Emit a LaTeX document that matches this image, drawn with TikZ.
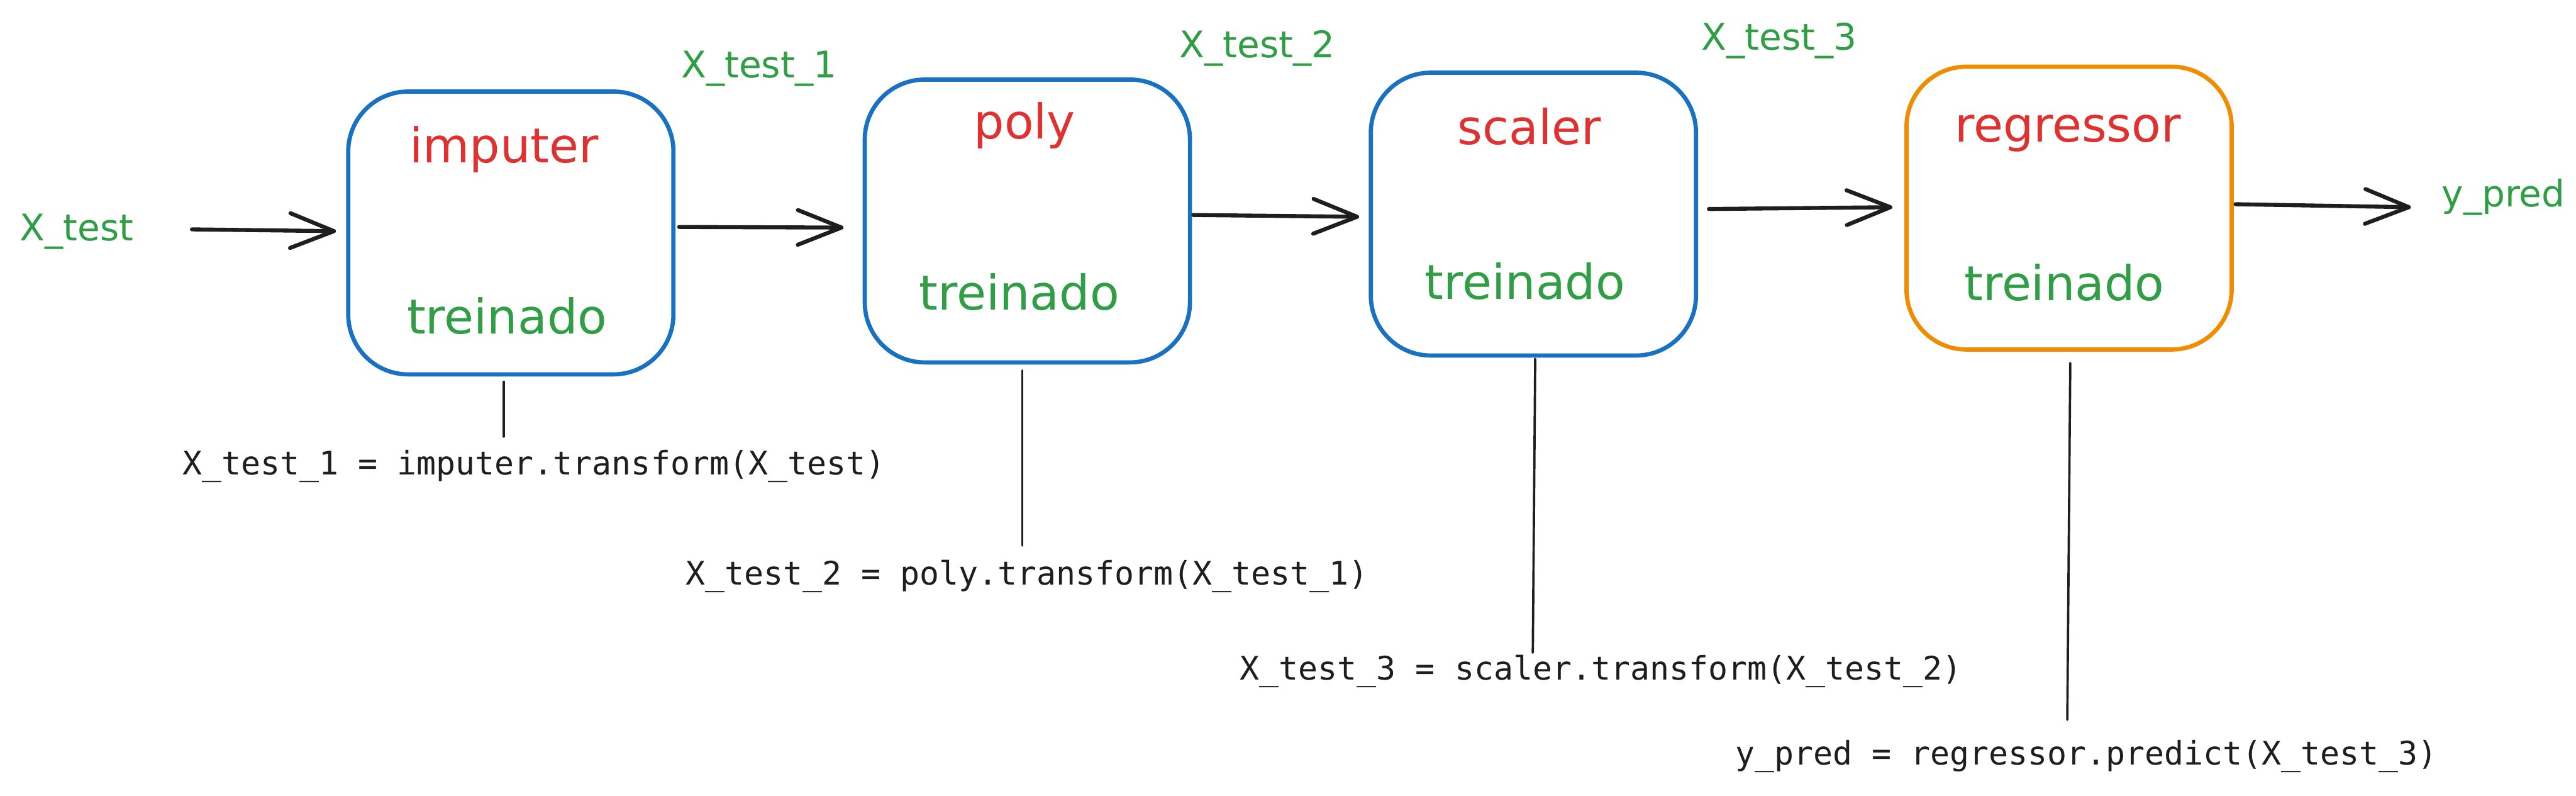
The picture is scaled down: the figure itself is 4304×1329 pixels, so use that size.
\documentclass[tikz,border=0pt]{standalone}
\usepackage{fontspec}
\setmainfont{DejaVu Sans}
\newfontfamily\codefont{DejaVu Sans Mono}
\usetikzlibrary{arrows.meta}
\definecolor{exred}{HTML}{E03131}
\definecolor{exgreen}{HTML}{2F9E44}
\definecolor{exblue}{HTML}{1971C2}
\definecolor{exorange}{HTML}{F08C00}
\definecolor{exink}{HTML}{1E1E1E}
\begin{document}
\begin{tikzpicture}[x=0.01cm,y=-0.01cm,
  box/.style={draw, line width=2pt, rounded corners=1cm, minimum width=5.43cm, minimum height=4.72cm, inner sep=0pt},
  title/.style={anchor=base, inner sep=0pt, text=exred, font=\fontsize{22.8}{26}\selectfont},
  state/.style={anchor=base, inner sep=0pt, text=exgreen, font=\fontsize{22.8}{26}\selectfont},
  var/.style={anchor=base, inner sep=0pt, text=exgreen, font=\fontsize{17.4}{20}\selectfont},
  code/.style={anchor=base, inner sep=0pt, text=exink, font=\codefont\fontsize{15.4}{18}\selectfont},
  arr/.style={draw=exink, line width=1.9pt, line cap=round, line join=round, -{Straight Barb[length=0.73cm, width=0.58cm, line width=1.9pt, round]}},
  thin/.style={draw=exink, line width=1.1pt, line cap=round}]
\useasboundingbox (0,0) rectangle (4304,1329);
\fill[white] (0,0) rectangle (4304,1329);

% boxes
\node[box, draw=exblue] (imp) at (853.5,389) {};
\node[box, draw=exblue] (poly) at (1716.5,369) {};
\node[box, draw=exblue] (scal) at (2562,357.5) {};
\node[box, draw=exorange] (reg) at (3457,347.5) {};

% titles
\node[title] (timp) at (842,272) {imputer};
\node[title] (tpoly) at (1712,232) {poly};
\node[title] (tscal) at (2555,241) {scaler};
\node[title] (treg) at (3455,237) {regressor};

% trained
\node[state] (simp) at (847,557) {treinado};
\node[state] (spoly) at (1703,518) {treinado};
\node[state] (sscal) at (2548,500) {treinado};
\node[state] (sreg) at (3449,502) {treinado};

% data labels
\node[var] (xt) at (128,402) {X\_test};
\node[var] (x1) at (1268,130) {X\_test\_1};
\node[var] (x2) at (2101,96) {X\_test\_2};
\node[var] (x3) at (2973,84) {X\_test\_3};
\node[var, anchor=base west] (yp) at (4079,345) {y\_pred};

% code labels
\node[code] (l1) at (892,793) {X\_test\_1 = imputer.transform(X\_test)};
\node[code] (l2) at (1716,977) {X\_test\_2 = poly.transform(X\_test\_1)};
\node[code] (l3) at (2675,1135) {X\_test\_3 = scaler.transform(X\_test\_2)};
\node[code] (l4) at (3486,1277) {y\_pred = regressor.predict(X\_test\_3)};

% arrows
\draw[arr] ([shift={(97,-19)}]xt.base east) -- ([shift={(-17,-3)}]imp.west);
\draw[arr] ([shift={(6,-10)}]imp.east) -- ([shift={(-32,11)}]poly.west);
\draw[arr] ([shift={(2,-10)}]poly.east) -- ([shift={(-16,4.5)}]scal.west);
\draw[arr] ([shift={(18,-8.5)}]scal.east) -- ([shift={(-20,-1.5)}]reg.west);
\draw[arr] ([shift={(3,-6.5)}]reg.east) -- ([shift={(-51,1)}]yp.base west);

% leader lines
\draw[thin] ([shift={(-11.5,9)}]imp.south) -- ([shift={(-50,-64)}]l1.base);
\draw[thin] ([shift={(-8.5,10)}]poly.south) -- ([shift={(-8,-66)}]l2.base);
\draw[thin] ([shift={(3,2)}]scal.south) -- ([shift={(-114,-45)}]l3.base);
\draw[thin] ([shift={(2,19)}]reg.south) -- ([shift={(-32,-75)}]l4.base);
\end{tikzpicture}
\end{document}
